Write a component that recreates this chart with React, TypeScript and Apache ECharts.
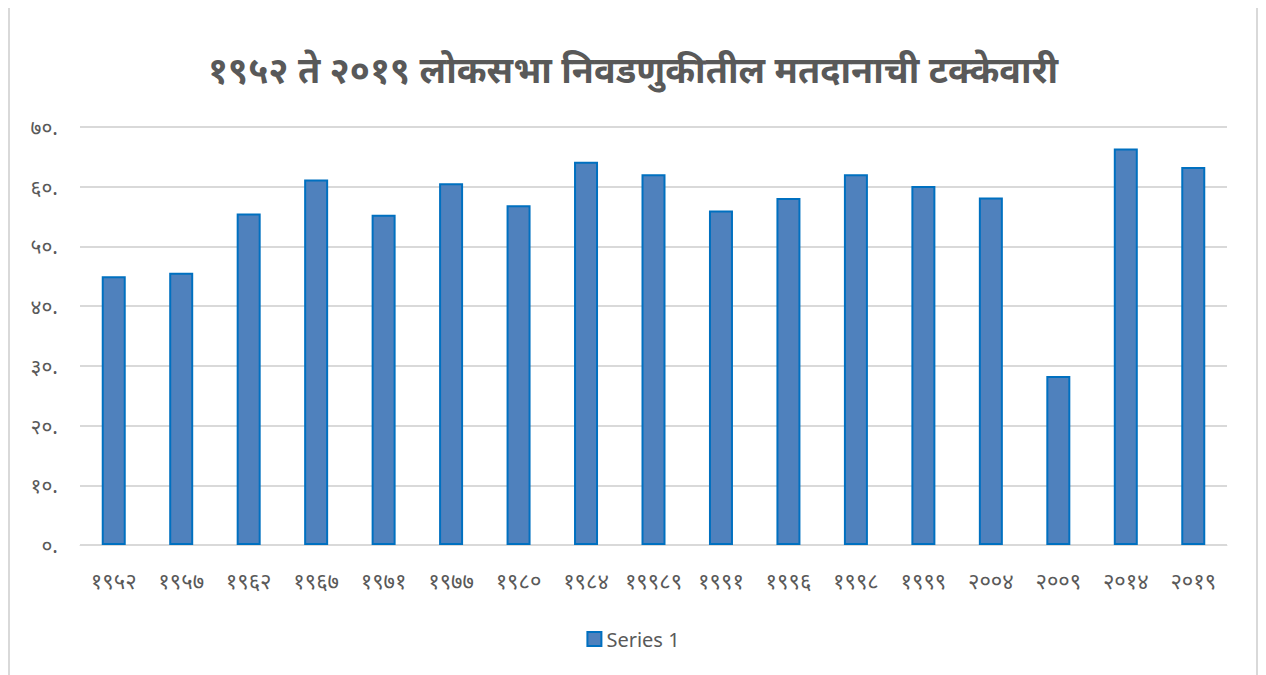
import React, { useEffect, useRef } from "react";
import * as echarts from "echarts";

const TITLE = "१९५२ ते २०१९ लोकसभा निवडणुकीतील मतदानाची टक्केवारी";
const years = [
  "१९५२", "१९५७", "१९६२", "१९६७", "१९७१", "१९७७", "१९८०", "१९८४", "१९९८९",
  "१९९१", "१९९६", "१९९८", "१९९९", "२००४", "२००९", "२०१४", "२०१९",
];
const turnout = [45.0, 45.6, 55.5, 61.2, 55.3, 60.6, 56.9, 64.2, 62.1, 56.0, 58.1, 62.1, 60.1, 58.2, 28.3, 66.4, 63.3];
const seriesName = "Series 1";
const devDigits = ["०", "१", "२", "३", "४", "५", "६", "७", "८", "९"];
const toDev = (n: number) => String(n).replace(/[0-9]/g, (d) => devDigits[Number(d)]);

const FONT = "'Noto Sans', 'Noto Sans Devanagari', sans-serif";

export default function App() {
  const ref = useRef<HTMLDivElement>(null);
  useEffect(() => {
    if (!ref.current) return;
    const chart = echarts.init(ref.current, undefined, { renderer: "svg" });
    chart.setOption({
      animation: false,
      textStyle: { fontFamily: FONT },
      title: {
        text: TITLE,
        left: "center",
        top: 38,
        textStyle: { fontSize: 36, fontWeight: "bold", color: "#595959", fontFamily: FONT },
      },
      legend: {
        data: [seriesName],
        bottom: 32,
        left: "center",
        itemWidth: 14,
        itemHeight: 14,
        itemGap: 6,
        icon: "rect",
        textStyle: { fontSize: 20, color: "#595959", fontFamily: FONT },
      },
      grid: { left: 70, right: 29, top: 119, height: 418 },
      xAxis: {
        type: "category",
        data: years,
        axisLine: { lineStyle: { color: "#d9d9d9", width: 1 } },
        axisTick: { show: false },
        axisLabel: { color: "#595959", fontSize: 22, margin: 24, interval: 0, fontFamily: FONT },
      },
      yAxis: {
        type: "value",
        min: 0,
        max: 70,
        interval: 10,
        axisLine: { show: false },
        axisTick: { show: false },
        splitLine: { lineStyle: { color: "#d9d9d9", width: 2 } },
        axisLabel: {
          color: "#595959",
          fontSize: 21,
          margin: 22,
          fontFamily: FONT,
          formatter: (v: number) => toDev(v) + ".",
        },
      },
      series: [
        {
          name: seriesName,
          type: "bar",
          data: turnout,
          barWidth: 24,
          itemStyle: { color: "#4f81bd", borderColor: "#0070c0", borderWidth: 2 },
        },
      ],
    });
    return () => chart.dispose();
  }, []);
  return (
    <div
      style={{
        width: 1250,
        height: 680,
        marginTop: -2,
        border: "2px solid #d9d9d9",
        borderBottom: "none",
        boxSizing: "border-box",
        background: "#fff",
      }}
    >
      <div ref={ref} style={{ width: 1246, height: 678 }} />
    </div>
  );
}
